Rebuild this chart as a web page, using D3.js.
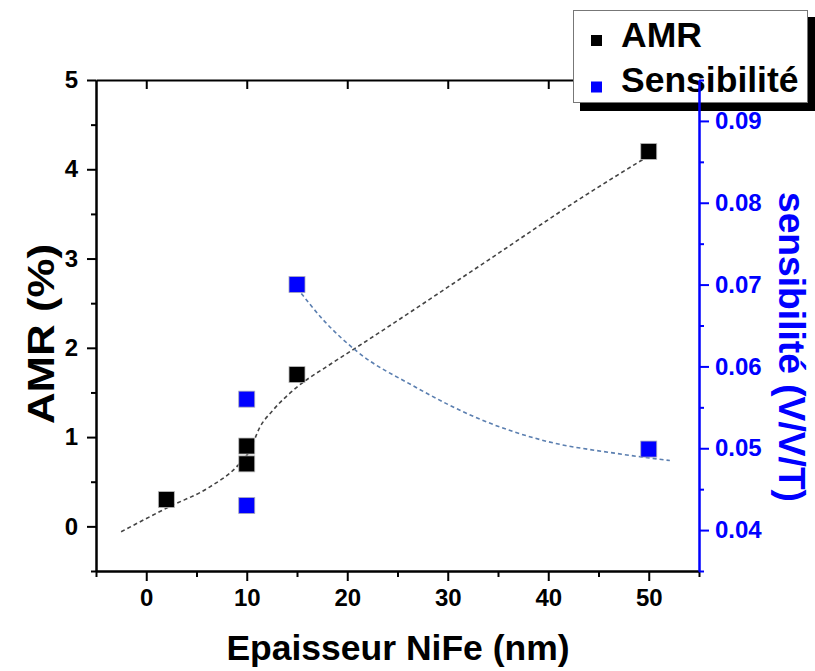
<!DOCTYPE html>
<html>
<head>
<meta charset="utf-8">
<script src="https://cdn.jsdelivr.net/npm/d3@7"></script>
<style>
  html, body { margin: 0; padding: 0; background: #fff; }
  svg { display: block; font-family: "Liberation Sans", Arial, sans-serif; font-weight: bold; }
</style>
</head>
<body>
<svg id="chart" width="815" height="671"></svg>
<script>
// ---- data ----
const amrX = [2, 10, 10, 15, 50];
const amrY = [0.3, 0.7, 0.9, 1.7, 4.2];
const sensX = [10, 10, 15, 50];
const sensY = [0.056, 0.043, 0.070, 0.0499];
// dashed guide curves
const amrFitX = [-2.5, 2.3, 6.3, 9.1, 10.3, 11.3, 12.6, 15, 18.1, 21, 34, 43.3, 50];
const amrFitY = [-0.06, 0.22, 0.44, 0.68, 0.85, 1.11, 1.30, 1.56, 1.80, 2.01, 2.98, 3.68, 4.15];
const sensFitX = [15, 17.6, 21, 26.6, 33.3, 40, 46.6, 52.1];
const sensFitY = [0.0696, 0.0657, 0.0618, 0.0576, 0.0535, 0.0508, 0.0494, 0.0485];
// ticks
const xMajor = [0, 10, 20, 30, 40, 50];
const xMinor = [-5, 5, 15, 25, 35, 45, 55];
const yLMajor = [0, 1, 2, 3, 4, 5];
const yLMinor = [-0.5, 0.5, 1.5, 2.5, 3.5, 4.5];
const yRMajor = [0.04, 0.05, 0.06, 0.07, 0.08, 0.09];
const yRMinor = [0.035, 0.045, 0.055, 0.065, 0.075, 0.085, 0.095];
const legendLabels = ["AMR", "Sensibilité"];

const svg = d3.select("#chart");
const x = d3.scaleLinear().domain([-5, 55]).range([96, 699]);
const yL = d3.scaleLinear().domain([-0.5, 5]).range([571, 80]);
const yR = d3.scaleLinear().domain([0.035, 0.095]).range([571, 80]);
const blue = "#0000ff";
const TF = 24;

function styleAxis(g, color, size) {
  g.selectAll("path.domain").attr("stroke", color).attr("stroke-width", 2);
  g.selectAll(".tick line").attr("stroke", color).attr("stroke-width", 2);
  g.selectAll(".tick text").attr("fill", color).attr("font-size", size)
    .attr("font-family", "'Liberation Sans', Arial, sans-serif").attr("font-weight", "bold");
}

// top line with inward major ticks
const gTop = svg.append("g").attr("transform", "translate(0,80)")
  .call(d3.axisTop(x).tickValues(xMajor).tickSize(-9).tickSizeOuter(0).tickFormat(""));
styleAxis(gTop, "#000", TF);

// bottom axis
const gBm = svg.append("g").attr("transform", "translate(0,571)")
  .call(d3.axisBottom(x).tickValues(xMinor).tickSize(6).tickSizeOuter(0).tickFormat(""));
styleAxis(gBm, "#000", TF);
const gB = svg.append("g").attr("transform", "translate(0,571)")
  .call(d3.axisBottom(x).tickValues(xMajor).tickSize(10).tickPadding(8).tickSizeOuter(0).tickFormat(d3.format("d")));
styleAxis(gB, "#000", TF);

// left axis
const gLm = svg.append("g").attr("transform", "translate(96,0)")
  .call(d3.axisLeft(yL).tickValues(yLMinor).tickSize(5).tickSizeOuter(0).tickFormat(""));
styleAxis(gLm, "#000", TF);
const gL = svg.append("g").attr("transform", "translate(96,0)")
  .call(d3.axisLeft(yL).tickValues(yLMajor).tickSize(9).tickPadding(9).tickSizeOuter(0).tickFormat(d3.format("d")));
styleAxis(gL, "#000", TF);

// fit curves
const amrFit = amrFitX.map((v, i) => [v, amrFitY[i]]);
const sensFit = sensFitX.map((v, i) => [v, sensFitY[i]]);
svg.append("path")
  .attr("d", d3.line().x(d => x(d[0])).y(d => yL(d[1])).curve(d3.curveMonotoneX)(amrFit))
  .attr("fill", "none").attr("stroke", "#444").attr("stroke-width", 1.6).attr("stroke-dasharray", "4,3");
svg.append("path")
  .attr("d", d3.line().x(d => x(d[0])).y(d => yR(d[1])).curve(d3.curveMonotoneX)(sensFit))
  .attr("fill", "none").attr("stroke", "#5b7fb0").attr("stroke-width", 1.6).attr("stroke-dasharray", "4,3");

// markers
const S = 16;
svg.append("g").selectAll("rect").data(amrX.map((v, i) => [v, amrY[i]])).join("rect")
  .attr("x", d => x(d[0]) - S / 2).attr("y", d => yL(d[1]) - S / 2)
  .attr("width", S).attr("height", S).attr("fill", "#000").attr("stroke", "#bbb").attr("stroke-width", 0.8);
svg.append("g").selectAll("rect").data(sensX.map((v, i) => [v, sensY[i]])).join("rect")
  .attr("x", d => x(d[0]) - S / 2).attr("y", d => yR(d[1]) - S / 2)
  .attr("width", S).attr("height", S).attr("fill", blue).attr("stroke", "#aab").attr("stroke-width", 0.8);

// legend
const lg = svg.append("g");
lg.append("rect").attr("x", 580).attr("y", 17).attr("width", 240).attr("height", 94).attr("fill", "#000");
lg.append("rect").attr("x", 573.5).attr("y", 10.5).attr("width", 234).attr("height", 92)
  .attr("fill", "#fff").attr("stroke", "#777").attr("stroke-width", 1);
const legColors = ["#000", blue];
legendLabels.forEach((t, i) => {
  lg.append("rect").attr("x", 591).attr("y", 35 + i * 46.5).attr("width", 11).attr("height", 11).attr("fill", legColors[i]);
  lg.append("text").attr("x", 621).attr("y", 47 + i * 45).attr("font-size", 35.5).attr("fill", "#000").text(t);
});

// right axis (blue) drawn over legend
const gRm = svg.append("g").attr("transform", "translate(699,0)")
  .call(d3.axisRight(yR).tickValues(yRMinor).tickSize(5).tickSizeOuter(0).tickFormat(""));
styleAxis(gRm, blue, TF);
const gR = svg.append("g").attr("transform", "translate(699,0)")
  .call(d3.axisRight(yR).tickValues(yRMajor).tickSize(10).tickPadding(6).tickSizeOuter(0).tickFormat(d3.format(".2f")));
styleAxis(gR, blue, TF);

// axis titles
svg.append("text").attr("x", 398).attr("y", 660).attr("text-anchor", "middle")
  .attr("font-size", 35.5).attr("fill", "#000").text("Epaisseur NiFe (nm)");
svg.append("text").attr("transform", "translate(54,334) rotate(-90)").attr("text-anchor", "middle")
  .attr("font-size", 37).attr("textLength", 180).attr("lengthAdjust", "spacingAndGlyphs")
  .attr("fill", "#000").text("AMR (%)");
svg.append("text").attr("transform", "translate(779,347) rotate(90)").attr("text-anchor", "middle")
  .attr("font-size", 36).attr("textLength", 310).attr("lengthAdjust", "spacingAndGlyphs")
  .attr("fill", blue).text("sensibilité (V/V/T)");
</script>
</body>
</html>
